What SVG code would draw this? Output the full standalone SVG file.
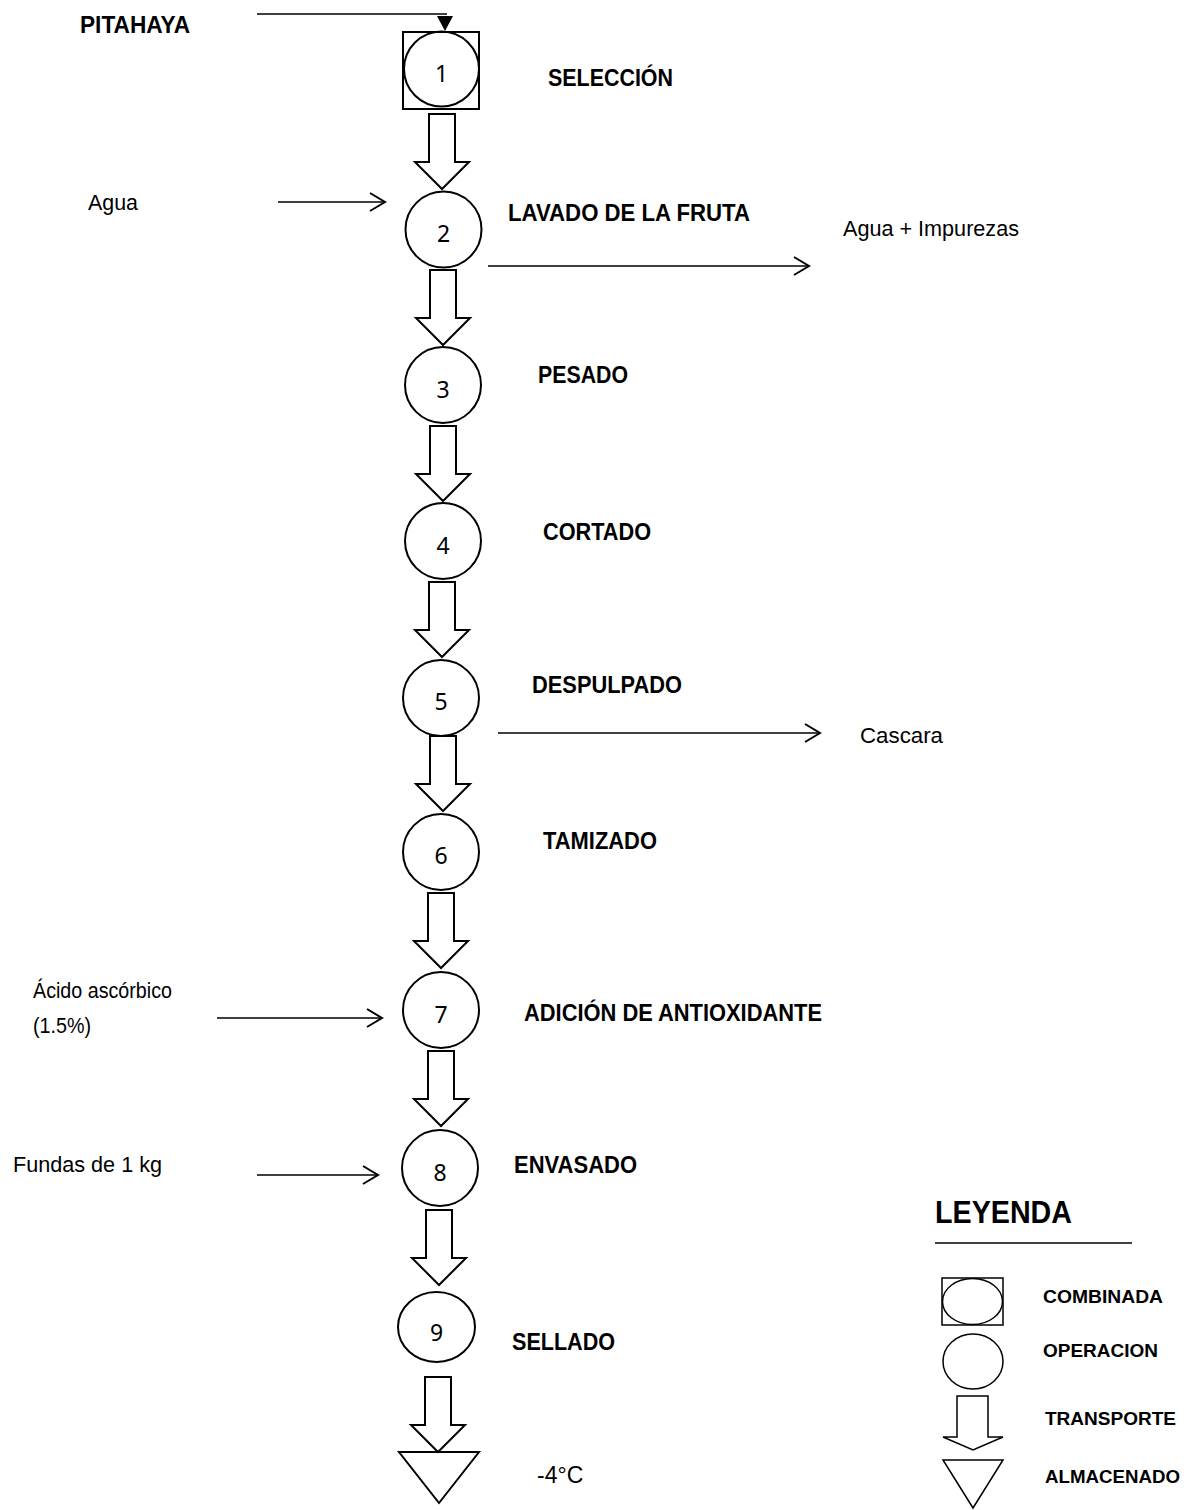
<svg xmlns="http://www.w3.org/2000/svg" xmlns:xlink="http://www.w3.org/1999/xlink" width="1196" height="1510" viewBox="0 0 1196 1510">
<style>
.shp{fill:none;stroke:#000;stroke-width:2}
.tr{fill:#fff;stroke:#000;stroke-width:2;stroke-linejoin:miter}
.ln{fill:none;stroke:#000;stroke-width:1.6}
.num{font-family:"Noto Sans","Open Sans",sans-serif;font-size:23px;fill:#000;text-anchor:middle}
.lbl{font-family:"Liberation Sans Narrow","Liberation Sans",Arial,sans-serif;font-weight:bold;font-size:24px;fill:#000}
.txt{font-family:"Liberation Sans Narrow","Liberation Sans",Arial,sans-serif;font-size:22px;fill:#000}
.leg{font-family:"Liberation Sans","Arial",sans-serif;font-weight:bold;font-size:19px;fill:#000}
.legh{font-family:"Liberation Sans","Arial",sans-serif;font-weight:bold;font-size:31px;fill:#000}
.legs{fill:none;stroke:#000;stroke-width:1.5}
</style>
<defs>
<marker id="open" markerUnits="userSpaceOnUse" markerWidth="22" markerHeight="22" refX="17" refY="10" orient="auto">
<path d="M2,1 L17,10 L2,19" fill="none" stroke="#000" stroke-width="2"/>
</marker>
<path id="trans" d="M-13,0 H13 V48 H27 L0,75 L-27,48 H-13 Z"/>
</defs>

<g id="connectors">
<use xlink:href="#trans" class="tr" x="442" y="114"/>
<use xlink:href="#trans" class="tr" x="443" y="270"/>
<use xlink:href="#trans" class="tr" x="443" y="426"/>
<use xlink:href="#trans" class="tr" x="442" y="582"/>
<use xlink:href="#trans" class="tr" x="443" y="736"/>
<use xlink:href="#trans" class="tr" x="441" y="893"/>
<use xlink:href="#trans" class="tr" x="441" y="1051"/>
<use xlink:href="#trans" class="tr" x="439" y="1210"/>
<use xlink:href="#trans" class="tr" x="438" y="1377"/>
<path class="ln" d="M257,14 H447"/>
<polygon points="437,16 453,16 445,31" fill="#000"/>
<line class="ln" x1="278" y1="202" x2="385" y2="202" marker-end="url(#open)"/>
<line class="ln" x1="488" y1="266" x2="809" y2="266" marker-end="url(#open)"/>
<line class="ln" x1="498" y1="733" x2="820" y2="733" marker-end="url(#open)"/>
<line class="ln" x1="217" y1="1018" x2="382" y2="1018" marker-end="url(#open)"/>
<line class="ln" x1="257" y1="1175" x2="378" y2="1175" marker-end="url(#open)"/>
</g>

<g id="input-pitahaya"><text class="lbl" x="80" y="33" textLength="110" lengthAdjust="spacingAndGlyphs">PITAHAYA</text></g>

<g id="node1">
<rect class="shp" x="403" y="32" width="76" height="77"/>
<circle class="shp" cx="441.5" cy="69" r="37.5"/>
<text class="num" x="441.5" y="82">1</text>
<text class="lbl" x="548" y="86" textLength="125" lengthAdjust="spacingAndGlyphs">SELECCIÓN</text>
</g>

<g id="input-agua"><text class="txt" x="88" y="210" textLength="50" lengthAdjust="spacingAndGlyphs">Agua</text></g>

<g id="node2">
<circle class="shp" cx="443.5" cy="229.5" r="38"/>
<text class="num" x="443.5" y="242">2</text>
<text class="lbl" x="508" y="221" textLength="242" lengthAdjust="spacingAndGlyphs">LAVADO DE LA FRUTA</text>
</g>

<g id="output-impurezas"><text class="txt" x="843" y="236" textLength="176" lengthAdjust="spacingAndGlyphs">Agua + Impurezas</text></g>

<g id="node3">
<circle class="shp" cx="443" cy="385" r="38"/>
<text class="num" x="443" y="398">3</text>
<text class="lbl" x="538" y="383" textLength="90" lengthAdjust="spacingAndGlyphs">PESADO</text>
</g>

<g id="node4">
<circle class="shp" cx="443" cy="541" r="38"/>
<text class="num" x="443" y="554">4</text>
<text class="lbl" x="543" y="540" textLength="108" lengthAdjust="spacingAndGlyphs">CORTADO</text>
</g>

<g id="node5">
<circle class="shp" cx="441" cy="698" r="38"/>
<text class="num" x="441" y="710">5</text>
<text class="lbl" x="532" y="693" textLength="150" lengthAdjust="spacingAndGlyphs">DESPULPADO</text>
</g>

<g id="output-cascara"><text class="txt" x="860" y="743" textLength="83" lengthAdjust="spacingAndGlyphs">Cascara</text></g>

<g id="node6">
<circle class="shp" cx="441" cy="852" r="38"/>
<text class="num" x="441" y="864">6</text>
<text class="lbl" x="543" y="849" textLength="114" lengthAdjust="spacingAndGlyphs">TAMIZADO</text>
</g>

<g id="input-acido">
<text class="txt" x="33" y="998" textLength="139" lengthAdjust="spacingAndGlyphs">Ácido ascórbico</text>
<text class="txt" x="33" y="1033" textLength="58" lengthAdjust="spacingAndGlyphs">(1.5%)</text>
</g>

<g id="node7">
<circle class="shp" cx="441" cy="1010" r="38"/>
<text class="num" x="441" y="1023">7</text>
<text class="lbl" x="524" y="1021" textLength="298" lengthAdjust="spacingAndGlyphs">ADICIÓN DE ANTIOXIDANTE</text>
</g>

<g id="input-fundas"><text class="txt" x="13" y="1172" textLength="149" lengthAdjust="spacingAndGlyphs">Fundas de 1 kg</text></g>

<g id="node8">
<circle class="shp" cx="440" cy="1168" r="38"/>
<text class="num" x="440" y="1181">8</text>
<text class="lbl" x="514" y="1173" textLength="123" lengthAdjust="spacingAndGlyphs">ENVASADO</text>
</g>

<g id="node9">
<ellipse class="shp" cx="436.5" cy="1327" rx="38.5" ry="35"/>
<text class="num" x="436.5" y="1341">9</text>
<text class="lbl" x="512" y="1350" textLength="103" lengthAdjust="spacingAndGlyphs">SELLADO</text>
</g>

<g id="storage">
<polygon class="shp" points="399,1452 479,1452 439,1503"/>
<text class="txt" x="537" y="1483" style="font-size:23px">-4°C</text>
</g>

<g id="legend">
<text class="legh" x="935" y="1223" textLength="137" lengthAdjust="spacingAndGlyphs">LEYENDA</text>
<line x1="935" y1="1243" x2="1132" y2="1243" stroke="#000" stroke-width="1.5"/>
<rect class="legs" x="942" y="1278" width="61" height="47"/>
<ellipse class="legs" cx="972.5" cy="1301.5" rx="30" ry="23"/>
<text class="leg" x="1043" y="1303" textLength="120" lengthAdjust="spacingAndGlyphs">COMBINADA</text>
<ellipse class="legs" cx="973" cy="1361.5" rx="30" ry="27.5"/>
<text class="leg" x="1043" y="1357" textLength="115" lengthAdjust="spacingAndGlyphs">OPERACION</text>
<path class="legs" d="M957,1396 H988 V1437 H1003 L973,1450 L943,1437 H957 Z"/>
<text class="leg" x="1045" y="1425" textLength="131" lengthAdjust="spacingAndGlyphs">TRANSPORTE</text>
<polygon class="legs" points="943,1460 1003,1460 973,1508"/>
<text class="leg" x="1045" y="1483" textLength="135" lengthAdjust="spacingAndGlyphs">ALMACENADO</text>
</g>
</svg>
